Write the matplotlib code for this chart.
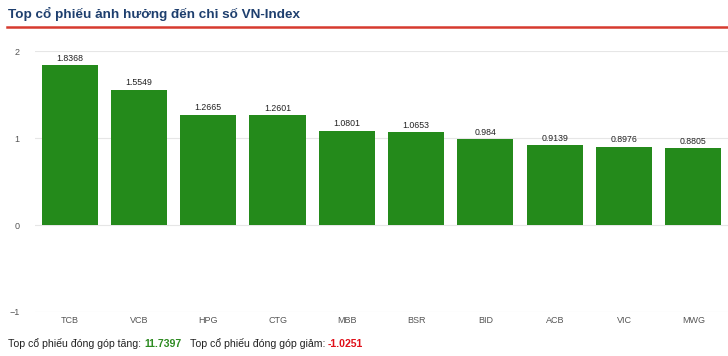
import matplotlib.pyplot as plt
from matplotlib.lines import Line2D

# data
tickers = ['TCB', 'VCB', 'HPG', 'CTG', 'MBB', 'BSR', 'BID', 'ACB', 'VIC', 'MWG']
values = [1.8368, 1.5549, 1.2665, 1.2601, 1.0801, 1.0653, 0.984, 0.9139, 0.8976, 0.8805]
total_up = '11.7397'
total_down = '-1.0251'

plt.rcParams['font.family'] = ['Liberation Sans', 'DejaVu Sans']

fig = plt.figure(figsize=(7.28, 3.56), dpi=100)
ax = fig.add_axes([0.048, 0.1236, 0.952, 0.7331])

x = range(len(tickers))
bars = ax.bar(x, values, width=0.81, color='#248a1b', zorder=2)
for b, v in zip(bars, values):
    ax.text(b.get_x() + b.get_width() / 2, v + 0.03, f'{v:g}',
            ha='center', va='bottom', fontsize=6.3, color='#222222')

ax.set_xlim(-0.5, len(tickers) - 0.5)
ax.set_ylim(-1, 2)
ax.set_yticks([-1, 0, 1, 2])
ax.set_xticks(list(x))
ax.set_xticklabels(tickers)
ax.yaxis.grid(True, color='#e6e6e6', linewidth=0.8, zorder=0)
ax.tick_params(axis='both', length=0, labelsize=6.5, colors='#555555')
ax.tick_params(axis='y', pad=11)
ax.tick_params(axis='x', pad=3)
for s in ax.spines.values():
    s.set_visible(False)

# header
fig.text(0.011, 0.96, 'Top cổ phiếu ảnh hưởng đến chỉ số VN-Index',
         fontsize=9.7, fontweight='bold', color='#1e3f6e', va='center')
fig.add_artist(Line2D([0.01, 1.0], [0.924, 0.924], color='#d63a2f', linewidth=1.8))

# footer
y_f = 0.035
fs = 7.6
t1 = fig.text(0.011, y_f, 'Top cổ phiếu đóng góp tăng: ', fontsize=fs, color='#222222', va='center')
fig.canvas.draw()
r = fig.canvas.get_renderer()
x_pos = 0.011 + t1.get_window_extent(r).width / fig.bbox.width
t2 = fig.text(x_pos, y_f, total_up, fontsize=fs, color='#2e8b22', fontweight='bold', va='center')
x_pos += t2.get_window_extent(r).width / fig.bbox.width + 0.012
t3 = fig.text(x_pos, y_f, 'Top cổ phiếu đóng góp giảm: ', fontsize=fs, color='#222222', va='center')
x_pos += t3.get_window_extent(r).width / fig.bbox.width
fig.text(x_pos, y_f, total_down, fontsize=fs, color='#e0101a', fontweight='bold', va='center')

fig.savefig('out.png', dpi=100)
